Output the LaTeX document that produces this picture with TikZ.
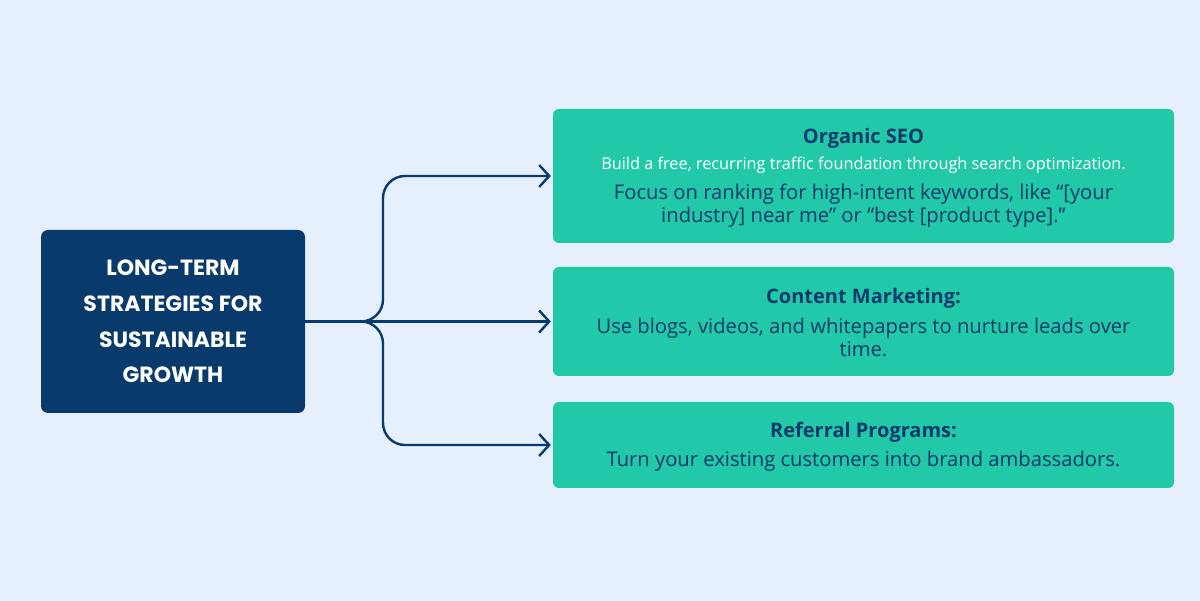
\documentclass[tikz,border=0pt]{standalone}
\usepackage{fontspec}
\setmainfont{Open Sans}
\newfontfamily\poppins{Poppins}
\usetikzlibrary{arrows.meta}
\definecolor{bgc}{HTML}{E6F0FD}
\definecolor{navy}{HTML}{083A6B}
\definecolor{tealc}{HTML}{22C9A8}
\begin{document}
\begin{tikzpicture}[x=1pt,y=-1pt,
  navybox/.style={fill=navy, rounded corners=7pt, inner sep=0pt, draw=none},
  greenbox/.style={fill=tealc, rounded corners=6pt, inner sep=0pt, draw=none},
  ttl/.style={anchor=base, inner sep=0pt, text=navy, font=\fontsize{20}{24}\selectfont\bfseries},
  body/.style={anchor=base, inner sep=0pt, text=navy, font=\fontsize{20.2}{24}\selectfont},
  wbody/.style={anchor=base, inner sep=0pt, text=white, font=\fontsize{16.3}{20}\selectfont},
  lt/.style={anchor=base, inner sep=0pt, text=white, font=\poppins\bfseries\fontsize{22}{26}\selectfont},
  conn/.style={draw=navy, line width=2.4pt, rounded corners=22pt, -{Straight Barb[length=10pt,width=22pt,line width=2.4pt]}, shorten >=2pt}
]
\useasboundingbox (0,0) rectangle (1200,601);
\fill[bgc] (0,0) rectangle (1200,601);

% left box
\node[navybox, minimum width=264pt, minimum height=183pt] (L) at (173,321.5) {};
\node[lt] (l1) at (173,276) {LONG-TERM};
\node[lt] (l2) at (173,312) {STRATEGIES FOR};
\node[lt] (l3) at (173,348) {SUSTAINABLE};
\node[lt] (l4) at (173,383) {GROWTH};

% right boxes
\node[greenbox, minimum width=621pt, minimum height=134pt] (T) at (863.5,176) {};
\node[ttl] (t1) at (863.5,144) {Organic SEO};
\node[wbody] (t2) at (863.5,170) {Build a free, recurring traffic foundation through search optimization.};
\node[body] (t3) at (863.5,200) {Focus on ranking for high-intent keywords, like “[your};
\node[body] (t4) at (863.5,223) {industry] near me” or “best [product type].”};

\node[greenbox, minimum width=621pt, minimum height=109pt] (C) at (863.5,321.5) {};
\node[ttl] (c1) at (863.5,304) {Content Marketing:};
\node[body] (c2) at (863.5,334) {Use blogs, videos, and whitepapers to nurture leads over};
\node[body] (c3) at (863.5,357) {time.};

\node[greenbox, minimum width=621pt, minimum height=86pt] (R) at (863.5,445) {};
\node[ttl] (r1) at (863.5,438) {Referral Programs:};
\node[body] (r2) at (863.5,467) {Turn your existing customers into brand ambassadors.};

% connectors
\coordinate (J) at (383,321.5);
\draw[conn] (L.east) -- (J) |- (T.west);
\draw[conn] (L.east) -- (C.west);
\draw[conn] (L.east) -- (J) |- (R.west);
\end{tikzpicture}
\end{document}
